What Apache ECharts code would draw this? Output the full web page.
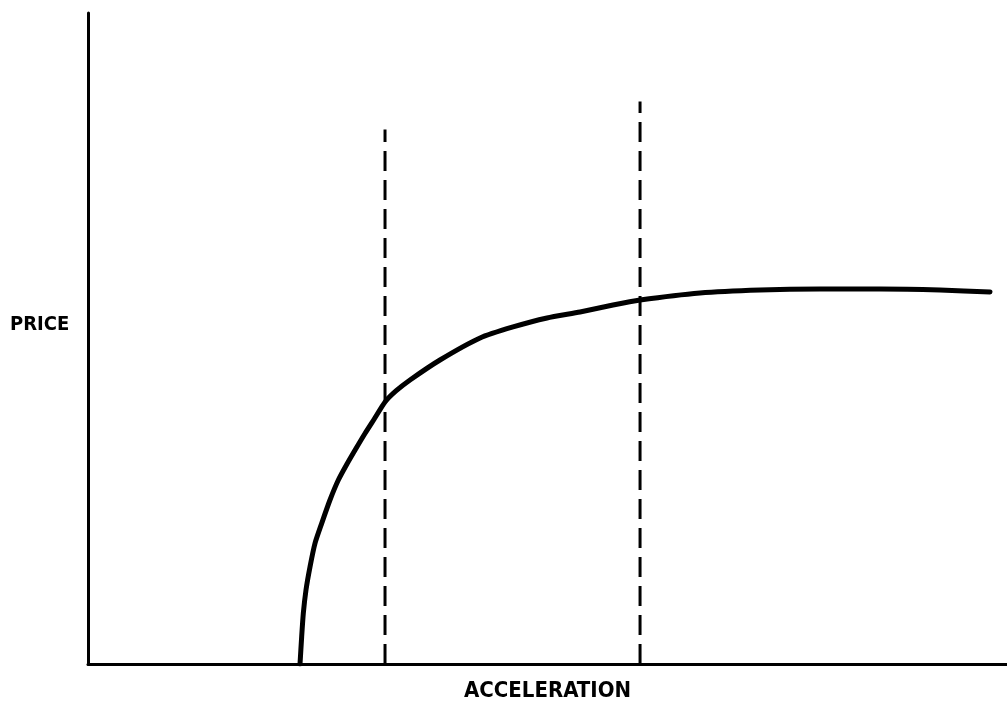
<!DOCTYPE html>
<html>
<head>
<meta charset="utf-8">
<script src="https://cdn.jsdelivr.net/npm/echarts@6/dist/echarts.min.js"></script>
<style>
  html, body { margin: 0; padding: 0; background: #fff; }
  #main { width: 1007px; height: 704px; }
</style>
</head>
<body>
<div id="main"></div>
<script>
// price curve (acceleration, price) in 0-100 units
var curveX = [23.07, 23.25, 23.43, 23.72, 24.16, 24.70, 25.43, 26.33, 27.24, 28.18, 29.16, 30.14, 31.18, 32.32, 33.51, 35.04, 38.30, 42.66, 46.25, 49.95, 53.54, 57.13, 60.07, 66.59, 73.12, 79.65, 86.18, 92.71, 98.15];
var curveY = [0, 4.19, 7.79, 11.37, 14.95, 18.54, 21.61, 25.19, 28.26, 30.72, 33.10, 35.41, 37.71, 40.25, 41.94, 43.63, 46.70, 50.08, 51.77, 53.15, 54.07, 55.15, 55.91, 56.99, 57.45, 57.60, 57.60, 57.45, 57.14];

// the two dashed markers
var markX = [32.32, 60.07];
var markTop = [82.1, 86.4];

var curveData = curveX.map(function (x, i) { return [x, curveY[i]]; });

var myChart = echarts.init(document.getElementById('main'));

var dashSeries = markX.map(function (x, i) {
  return {
    type: 'line',
    data: [[x, 0], [x, markTop[i]]],
    symbol: 'none',
    silent: true,
    lineStyle: { color: '#000', width: 3, type: [20, 9] }
  };
});

var option = {
  animation: false,
  backgroundColor: '#fff',
  title: {
    text: 'PRICE',
    left: 5,
    top: 310,
    textStyle: { fontFamily: 'DejaVu Sans Condensed', fontWeight: 'bold', fontSize: 20, color: '#000' }
  },
  grid: { left: 88, right: 0, top: 13, bottom: 40, outerBoundsMode: 'none', containLabel: false },
  xAxis: {
    type: 'value',
    min: 0,
    max: 100,
    name: 'ACCELERATION',
    nameLocation: 'middle',
    nameGap: 16,
    nameTextStyle: { fontFamily: 'DejaVu Sans Condensed', fontWeight: 'bold', fontSize: 22, color: '#000' },
    axisLine: { lineStyle: { color: '#000', width: 3 } },
    axisTick: { show: false },
    axisLabel: { show: false },
    splitLine: { show: false }
  },
  yAxis: {
    type: 'value',
    min: 0,
    max: 100,
    axisLine: { show: true, lineStyle: { color: '#000', width: 3 } },
    axisTick: { show: false },
    axisLabel: { show: false },
    splitLine: { show: false }
  },
  series: [{
    type: 'line',
    data: curveData,
    smooth: 0.2,
    symbol: 'none',
    lineStyle: { color: '#000', width: 5, join: 'round', cap: 'round' }
  }].concat(dashSeries)
};

myChart.setOption(option);
</script>
</body>
</html>
